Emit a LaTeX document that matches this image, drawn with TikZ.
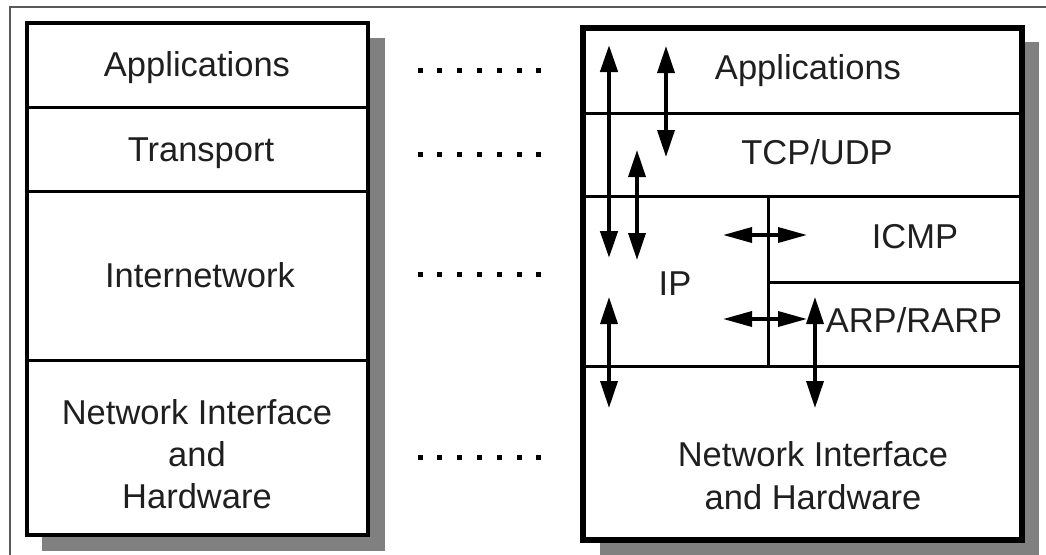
\documentclass[tikz,border=0pt]{standalone}
\usepackage{fontspec}
\setmainfont{Liberation Sans}
\usetikzlibrary{arrows.meta}
\begin{document}
\begin{tikzpicture}[x=1pt,y=-1pt,
  lbl/.style={font=\fontsize{34.5}{42}\selectfont, text=black!88, align=center, inner sep=0pt},
  layer/.style={draw, fill=white, line width=3pt, inner sep=0pt, outer sep=0pt},
  shadowbox/.style={fill=black!50, draw=none},
  arr/.style={line width=3.5pt, {Triangle[length=27pt,width=17pt]}-{Triangle[length=27pt,width=17pt]}},
  harr/.style={line width=3.5pt, {Triangle[length=29pt,width=15pt]}-{Triangle[length=29pt,width=15pt]}},
  pageframe/.style={draw=black!65, line width=2pt}]
\useasboundingbox (0,0) rectangle (1046,554);
% page frame
\coordinate (f1) at (10,556);
\coordinate (f2) at (10,7);
\coordinate (f3) at (1048,7);
\draw[pageframe] (f1) -- (f2) -- (f3);
% shadows
\fill[shadowbox] (42,38) rectangle (385,551);
\fill[shadowbox] (600,42) rectangle (1039,556);
% left stack
\node[layer, minimum width=341pt, minimum height=84pt] (LApp) at (197.5,65) {};
\node[layer, minimum width=341pt, minimum height=84pt] (LTr) at (197.5,149) {};
\node[layer, minimum width=341pt, minimum height=169pt] (LInt) at (197.5,275.5) {};
\node[layer, minimum width=341pt, minimum height=175pt] (LNet) at (197.5,447.5) {};
\draw[line width=3.5pt] (LApp.north west) rectangle (LNet.south east);
% right stack
\node[layer, minimum width=439pt, minimum height=85pt] (RApp) at (802.5,70.5) {};
\node[layer, minimum width=439pt, minimum height=83pt] (RTcp) at (802.5,154.5) {};
\node[layer, minimum width=185pt, minimum height=170pt] (RIp) at (675.5,281) {};
\node[layer, minimum width=254pt, minimum height=86pt] (RIcmp) at (895,239) {};
\node[layer, minimum width=254pt, minimum height=84pt] (RArp) at (895,324) {};
\node[layer, minimum width=439pt, minimum height=174pt] (RNet) at (802.5,453) {};
\draw[line width=5.5pt] (RApp.north west) rectangle (RNet.south east);
% labels
\node[lbl] (tLApp) at (197,68) {Applications};
\node[lbl] (tLTr) at (201,153) {Transport};
\node[lbl] (tLInt) at (200,275) {Internetwork};
\node[lbl] (tLNet) at (197,454) {Network Interface\\and\\Hardware};
\node[lbl] (tRApp) at (808,71) {Applications};
\node[lbl] (tRTcp) at (817,152) {TCP/UDP};
\node[lbl] (tRIcmp) at (915,237) {ICMP};
\node[lbl] (tRIp) at (675,284) {IP};
\node[lbl] (tRArp) at (914,320) {ARP/RARP};
\node[lbl, font=\fontsize{34.5}{43}\selectfont] (tRNet) at (813,476) {Network Interface\\and Hardware};
% dots
\foreach \y in {70,154,274,457}
  \foreach \i in {0,...,6}
    \fill (417.5+19.8*\i,\y-2.5) rectangle ++(5,5);
% arrows
\coordinate (a1t) at (609,45);  \coordinate (a1b) at (609,258);
\coordinate (a2t) at (666,46);  \coordinate (a2b) at (666,157);
\coordinate (a3t) at (637,150); \coordinate (a3b) at (637,260);
\coordinate (h1l) at (723,235); \coordinate (h1r) at (807,235);
\coordinate (h2l) at (723,319); \coordinate (h2r) at (807,319);
\coordinate (a4t) at (609,297); \coordinate (a4b) at (609,408);
\coordinate (a5t) at (815,297); \coordinate (a5b) at (815,408);
\draw[arr, line width=4.5pt] (a1t) -- (a1b);
\draw[arr] (a2t) -- (a2b);
\draw[arr] (a3t) -- (a3b);
\draw[harr] (h1l) -- (h1r);
\draw[harr] (h2l) -- (h2r);
\draw[arr] (a4t) -- (a4b);
\draw[arr] (a5t) -- (a5b);
\end{tikzpicture}
\end{document}
